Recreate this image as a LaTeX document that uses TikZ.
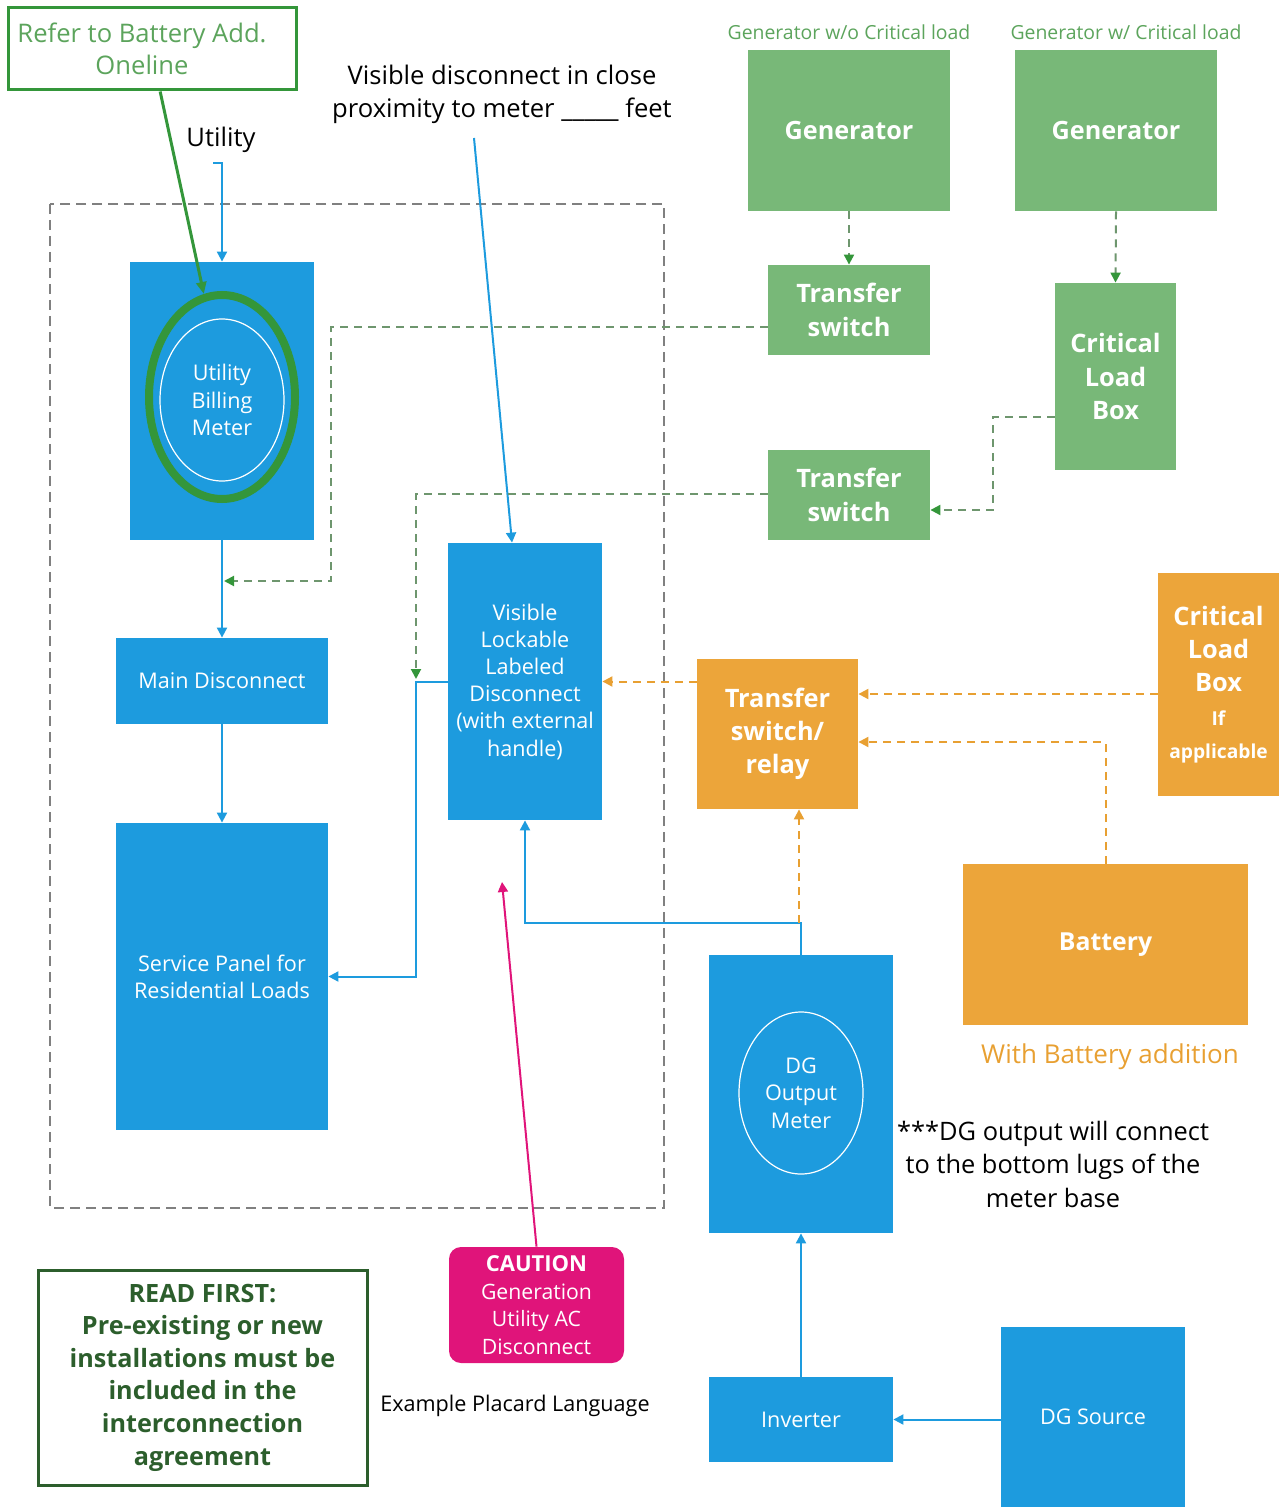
\documentclass[tikz,border=0pt]{standalone}
\usepackage{fontspec}
\setmainfont{Open Sans}
\usetikzlibrary{arrows.meta,shapes.geometric,calc}
\definecolor{bl}{RGB}{29,155,222}
\definecolor{grf}{RGB}{120,184,120}
\definecolor{grt}{RGB}{92,164,92}
\definecolor{grl}{RGB}{52,150,58}
\definecolor{grd}{RGB}{110,150,110}
\definecolor{orf}{RGB}{236,165,58}
\definecolor{ort}{RGB}{232,160,50}
\definecolor{mag}{RGB}{224,20,122}
\definecolor{dkg}{RGB}{44,94,44}
\definecolor{gy}{RGB}{128,128,128}
\begin{document}
\begin{tikzpicture}[x=0.5pt,y=-0.5pt,
  tip/.style={-{Triangle[length=5pt,width=5pt]}},
  blbox/.style={fill=bl,text=white,align=center,inner sep=0pt,font=\fontsize{10.8}{13.6}\selectfont},
  grbox/.style={fill=grf,text=white,align=center,inner sep=0pt,font=\bfseries\fontsize{12.7}{16.6}\selectfont},
  orbox/.style={fill=orf,text=white,align=center,inner sep=0pt,font=\bfseries\fontsize{12.7}{16.6}\selectfont},
  meterell/.style={ellipse,draw=white,line width=0.6pt,minimum width=62pt,minimum height=81pt,text=white,align=center,inner sep=0pt,font=\fontsize{10.8}{13.75}\selectfont},
  bline/.style={draw=bl,line width=1pt,tip},
  gdash/.style={draw=grd,line width=1pt,dash pattern=on 4pt off 3pt,-{Triangle[length=5pt,width=5pt,color=grl]}},
  odash/.style={draw=ort,line width=1pt,dash pattern=on 4pt off 3pt,tip},
  ]
\useasboundingbox (0,0) rectangle (1285,1507);
\draw[gy,line width=0.8pt,dash pattern=on 5pt off 3pt] (50,204) rectangle (664,1208);

% top-left
\node[draw=grl,line width=1.5pt,minimum width=144pt,minimum height=41pt,text=grt,align=center,font=\fontsize{12.8}{16}\selectfont,inner sep=0pt] (refer) at (152,49) {\hspace*{-10pt}Refer to Battery Add.\\\hspace*{-10pt}Oneline};
\node[font=\fontsize{12.8}{15}\selectfont] (utility) at (221,140) {Utility};
\node[blbox,minimum width=92pt,minimum height=139pt] (meter) at (222,401) {};
\node[meterell] (bill) at (222,400) {Utility\\Billing\\Meter};
\node[ellipse,draw=grl,line width=4pt,minimum width=73pt,minimum height=102pt] (ring) at (222,397) {};
\node[align=center,font=\fontsize{12.8}{16.5}\selectfont] (vdtext) at (502,94) {Visible disconnect in close\\proximity to meter \_\_\_\_\_ feet};

\node[blbox,minimum width=77pt,minimum height=138.5pt] (vis) at (525,681.5) {Visible\\Lockable\\Labeled\\Disconnect\\(with external\\handle)};
\node[blbox,minimum width=106pt,minimum height=43pt] (main) at (222,681) {Main Disconnect};
\node[blbox,minimum width=106pt,minimum height=153.5pt] (serv) at (222,976.5) {Service Panel for\\Residential Loads};

% generators
\node[grbox,font=\bfseries\fontsize{12.6}{16}\selectfont,minimum width=101pt,minimum height=80.5pt] (gen1) at (849,130.5) {Generator};
\node[grbox,font=\bfseries\fontsize{12.6}{16}\selectfont,minimum width=101pt,minimum height=80.5pt] (gen2) at (1116,130.5) {Generator};
\node[text=grt,font=\fontsize{9.7}{11}\selectfont] (g1lab) at (849,32) {Generator w/o Critical load};
\node[text=grt,font=\fontsize{9.7}{11}\selectfont] (g2lab) at (1126,32) {Generator w/ Critical load};
\node[grbox,minimum width=81pt,minimum height=45pt] (ts1) at (849,310) {Transfer\\switch};
\node[grbox,minimum width=60.5pt,minimum height=93.5pt] (clbg) at (1115.5,376.5) {Critical\\Load\\Box};
\node[grbox,minimum width=81pt,minimum height=45pt] (ts2) at (849,495) {Transfer\\switch};

% battery
\node[orbox,minimum width=80.5pt,minimum height=75pt] (tsr) at (777.5,734) {Transfer\\switch/\\relay};
\node[orbox,minimum width=60.5pt,minimum height=111.5pt] (clbo) at (1218.5,684.5) {Critical\\Load\\Box\\{\fontsize{9.6}{12}\selectfont If}\\{\fontsize{9.6}{12}\selectfont applicable}};
\node[orbox,font=\bfseries\fontsize{12.4}{16}\selectfont,minimum width=142.5pt,minimum height=80.5pt] (batt) at (1105.5,944.5) {Battery};
\node[text=ort,font=\fontsize{13}{15}\selectfont] (wba) at (1110,1057) {With Battery addition};

% DG
\node[blbox,minimum width=92pt,minimum height=139pt] (dgbox) at (801,1094) {};
\node[meterell] (dgm) at (801,1093) {DG\\Output\\Meter};
\node[align=center,font=\fontsize{12.7}{16.75}\selectfont] (note) at (1053,1164) {***DG output will connect\\to the bottom lugs of the\\meter base};
\node[blbox,minimum width=92pt,minimum height=42.5pt] (inv) at (801,1419.5) {Inverter};
\node[blbox,minimum width=92pt,minimum height=90pt] (dgs) at (1093,1417) {DG Source};

% bottom left
\node[fill=mag,rounded corners=6pt,text=white,align=center,inner sep=0pt,minimum width=87.5pt,minimum height=58pt,font=\fontsize{10.6}{13.85}\selectfont] (caut) at (536.5,1305) {{\bfseries\fontsize{11}{13.85}\selectfont CAUTION}\\Generation\\Utility AC\\Disconnect};
\node[font=\fontsize{10.8}{12}\selectfont] (plac) at (515,1406) {Example Placard Language};
\node[draw=dkg,line width=1.5pt,text=dkg,align=center,font=\bfseries\fontsize{12.6}{16.3}\selectfont,minimum width=164.5pt,minimum height=107.5pt,inner sep=0pt] (read) at (202.5,1377.5) {READ FIRST:\\Pre-existing or new\\installations must be\\included in the\\interconnection\\agreement};

% coordinates
\coordinate (uhook) at (213,163);
\coordinate (vdtop) at (474,138);
\coordinate (gj1) at (224,581);
\coordinate (gj2) at (416,679);
\coordinate (dgj) at (801,923);
\coordinate (magend) at (502,882);

% connectors
\draw[draw=bl,line width=1pt,tip] (uhook) -- (meter.north |- uhook) -- (meter.north);
\draw[grl,line width=1.5pt,-{Triangle[length=6pt,width=5pt]}] ($(refer.south west)!0.528!(refer.south east)$) -- (ring.100);
\draw[bline] (meter.south) -- (main.north);
\draw[bline] (main.south) -- (serv.north);
\draw[bline] (vdtop) -- ($(vis.north west)!0.416!(vis.north east)$);
\draw[bline] (vis.west) -- ++(-32,0) |- (serv.east);

\draw[gdash] ($(ts1.west)+(0,17)$) -- (331,327) |- (gj1);
\draw[gdash] ($(ts2.west)+(0,-1)$) -- (gj2 |- 0,494) -- (gj2);
\draw[gdash] (gen1.south) -- (ts1.north);
\draw[gdash] (gen2.south) -- (clbg.north);
\draw[gdash] ($(clbg.west)+(0,40.5)$) -- (993,417) |- ($(ts2.east)+(0,15)$);

\draw[odash] (tsr.west |- vis.east) -- (vis.east);
\draw[odash] ($(clbo.west)+(0,9.5)$) -- ($(tsr.east)+(0,-40)$);
\draw[odash] (batt.north) |- ($(tsr.east)+(0,8)$);

\draw[bline] (dgbox.north) -- (dgj) -| (vis.south);
\draw[odash] ($(dgj)+(-2,0)$) -- ($(tsr.south)+(21.5,0)$);
\draw[bline] (inv.north) -- (dgbox.south);
\draw[bline] (dgs.west |- inv.west) -- (inv.east);
\draw[mag,line width=1pt,-{Triangle[length=5pt,width=5pt]}] (caut.north) -- (magend);
\end{tikzpicture}
\end{document}
